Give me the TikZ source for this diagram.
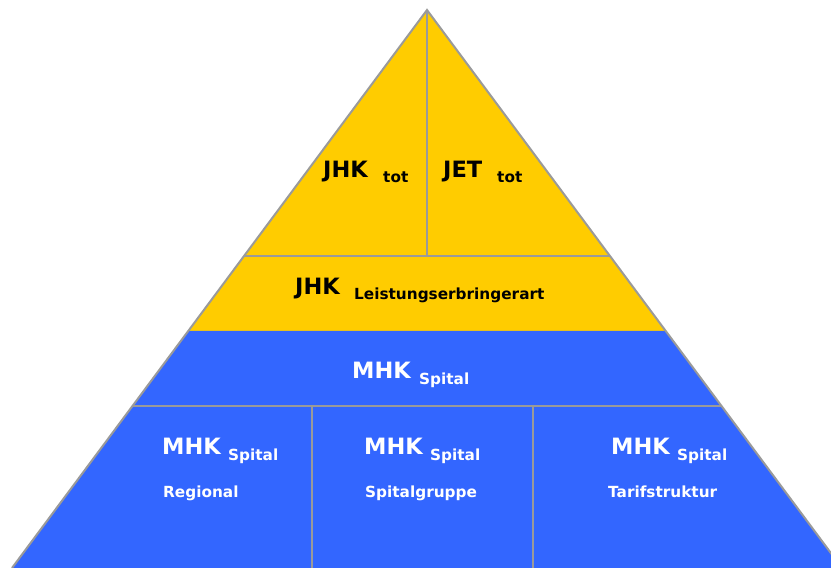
\documentclass[tikz,border=0pt]{standalone}
\usepackage{fontspec}
\setmainfont{DejaVu Sans}
\definecolor{pyyellow}{HTML}{FFCC00}
\definecolor{pyblue}{HTML}{3366FF}
\definecolor{pygrey}{HTML}{9A9A9A}
\begin{document}
\begin{tikzpicture}[x=1pt,y=1pt,
  lbl/.style={anchor=base west, inner sep=0pt, font=\bfseries\fontsize{22.5}{23}\selectfont},
  sublbl/.style={anchor=base west, inner sep=0pt, font=\bfseries\fontsize{15.3}{16}\selectfont},
  gline/.style={draw=pygrey, line width=2pt}]
\useasboundingbox (0,0) rectangle (831,568);
\clip (0,0) rectangle (831,568);
\coordinate (apex) at (427,558);
\coordinate (bl) at (12,0);
\coordinate (br) at (842,0);
\coordinate (yl) at (188.3,237);
\coordinate (yr) at (665.7,237);
\coordinate (tl) at (244.05,312);
\coordinate (tr) at (609.95,312);
\coordinate (tm) at (427,312);
\coordinate (ml) at (132.5,162);
\coordinate (mr) at (721.5,162);
\coordinate (v1t) at (312,162);
\coordinate (v1b) at (312,0);
\coordinate (v2t) at (533,162);
\coordinate (v2b) at (533,0);
% fills
\fill[pyyellow] (apex) -- (yl) -- (yr) -- cycle;
\fill[pyblue] (yl) -- (yr) -- (br) -- (bl) -- cycle;
% lines
\draw[gline] (tl) -- (tr);
\draw[gline] (apex) -- (tm);
\draw[gline] (ml) -- (mr);
\draw[gline] (v1t) -- (v1b);
\draw[gline] (v2t) -- (v2b);
\draw[gline, line join=miter] (bl) -- (apex) -- (br);
% labels
\node[lbl] (jhk) at (323,390) {JHK};
\node[sublbl] (jhksub) at (383,385) {tot};
\node[lbl] (jet) at (443,390) {JET};
\node[sublbl] (jetsub) at (497,385) {tot};
\node[lbl] (jhkle) at (295,273) {JHK};
\node[sublbl] (jhklesub) at (354,268) {Leistungserbringerart};
\node[lbl, text=white] (mhk) at (352,189) {MHK};
\node[sublbl, text=white] (mhksub) at (419,183) {Spital};
\node[lbl, text=white] (mhk1) at (162,113) {MHK};
\node[sublbl, text=white] (mhk1sub) at (228,107) {Spital};
\node[sublbl, text=white] (reg) at (163,70) {Regional};
\node[lbl, text=white] (mhk2) at (364,113) {MHK};
\node[sublbl, text=white] (mhk2sub) at (430,107) {Spital};
\node[sublbl, text=white] (grp) at (365,70) {Spitalgruppe};
\node[lbl, text=white] (mhk3) at (611,113) {MHK};
\node[sublbl, text=white] (mhk3sub) at (677,107) {Spital};
\node[sublbl, text=white] (tar) at (608,70) {Tarifstruktur};
\end{tikzpicture}
\end{document}
